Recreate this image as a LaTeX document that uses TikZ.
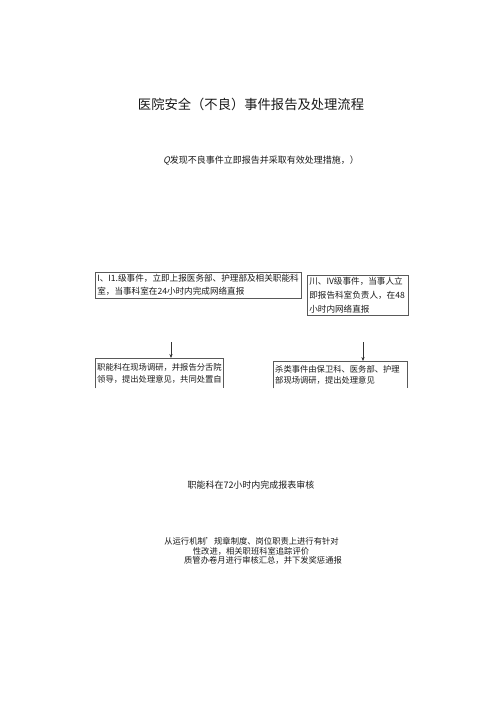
\documentclass[tikz,border=0pt]{standalone}
\usepackage{fontspec}
\setmainfont{Noto Sans CJK SC}
\newfontfamily\slantfont[FakeSlant=0.25]{Noto Sans CJK SC}
\usetikzlibrary{positioning, arrows.meta}

\begin{document}
\begin{tikzpicture}[
    x=1pt, y=-1pt,
    every node/.style={text=black!90, inner sep=0pt},
    report/.style={draw=black!65, line width=0.6pt, anchor=north west, align=left, inner xsep=2pt, inner ysep=0pt},
    open box/.style={anchor=north west, align=left, inner xsep=2pt, inner ysep=0pt, minimum height=30pt},
    small/.style={font=\fontsize{8.3}{11.5}\selectfont},
    flow/.style={-{Stealth[length=4pt,width=3.2pt]}, line width=0.6pt, black!80}
]
    \useasboundingbox (0,0) rectangle (500,707);

    % title and first step
    \node (title) at (251,104) {\fontsize{13.3}{16}\selectfont 医院安全（不良）事件报告及处理流程};
    \node (find) at (261,160) {\fontsize{9}{11}\selectfont {\slantfont Q}发现不良事件立即报告并采取有效处理措施，）};

    % two report paths
    \node[report, minimum width=206pt, minimum height=26pt, text width=202pt,
          font=\fontsize{8.6}{13}\selectfont] (grade12) at (95,272)
        {I、I1.级事件，立即上报医务部、护理部及相关职能科\\室，当事科室在24小时内完成网络直报};
    \node[report, minimum width=101pt, minimum height=40pt, text width=97pt,
          font=\fontsize{8.6}{14}\selectfont] (grade34) at (307,275)
        {川、IV级事件，当事人立\\即报告科室负责人，在48\\小时内网络直报};

    % investigation boxes, open at the bottom
    \node[open box, small, minimum width=128pt, text width=124pt] (investL) at (95,358)
        {职能科在现场调研，并报告分舌院\\领导，提出处理意见，共同处置自};
    \node[open box, small, minimum width=134pt, text width=130pt, minimum height=27pt] (investR) at (273,361)
        {杀类事件由保卫科、医务部、护理\\部现场调研，提出处理意见};
    \draw[black!65, line width=0.6pt] (investL.south west) -- (investL.north west) -- (investL.north east) -- (investL.south east);
    \draw[black!65, line width=0.6pt] (investR.south west) -- (investR.north west) -- (investR.north east) -- (investR.south east);

    \coordinate (arrL) at (171,342);
    \coordinate (arrR) at (363,342);
    \draw[flow] (arrL) -- (arrL |- investL.north);
    \draw[flow] (arrR) -- (arrR |- investR.north);

    % review and follow-up
    \node (review) at (251,485) {\fontsize{9}{11}\selectfont 职能科在72小时内完成报表审核};
    \node[small] (improve1) at (251.5,541) {从运行机制'规章制度、岗位职责上进行有针对};
    \node[small] (improve2) at (251,551) {性改进，相关职班科室追踪评价};
    \node[small] (improve3) at (263,560) {质管办卷月进行审核汇总，并下发奖惩通报};
\end{tikzpicture}
\end{document}
